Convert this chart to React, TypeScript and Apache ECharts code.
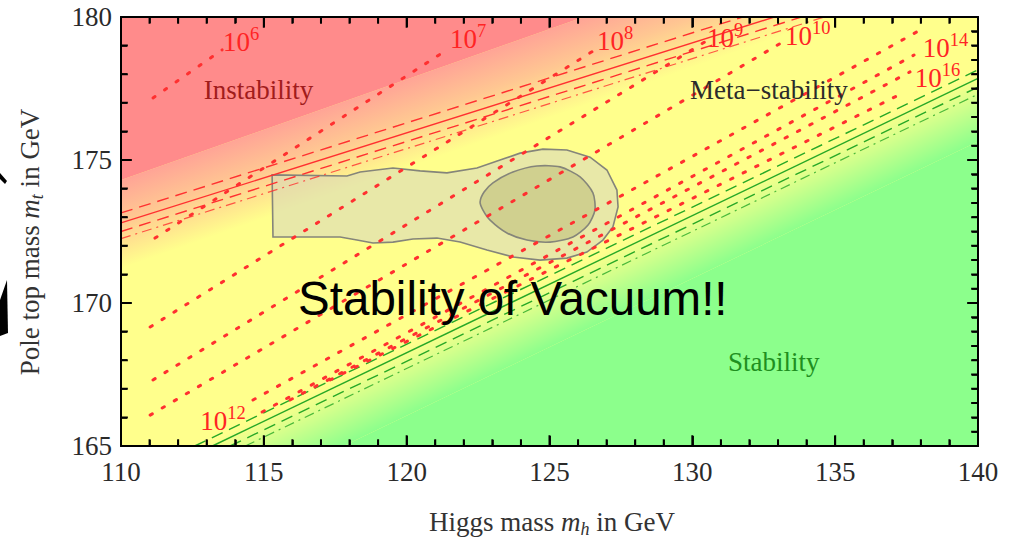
import React, { useEffect, useRef } from "react";
import * as echarts from "echarts";

// ---------- axes ----------
const xMin = 110, xMax = 140, xStep = 5;
const yMin = 165, yMax = 180, yStep = 5;
const xTickValues = [110,111,112,113,114,115,116,117,118,119,120,121,122,123,124,125,126,127,128,129,130,131,132,133,134,135,136,137,138,139,140];
const yTickValues = [165,166,167,168,169,170,171,172,173,174,175,176,177,178,179,180];
const yRightTickValues = [165,165.5,166,166.5,167,167.5,168,168.5,169,169.5,170,170.5,171,171.5,172,172.5,173,173.5,174,174.5,175,175.5,176,176.5,177,177.5,178,178.5,179,179.5,180];
const majorTickLen = 0.38; // GeV (inward frame ticks)
const minorTickLen = 0.24;

// ---------- background zones (GeV) ----------
const redEdge = [[110, 174.3], [126.2, 180]];
const redFadeEnd = [[110, 171.2], [135.3, 180]];
const greenFadeStart = [[112.78, 165], [140, 178.05]];
const greenFull = [[117.79, 165], [140, 175.65]];

// ---------- allowed regions ----------
const outerRegion = [
  [115.29, 174.48], [117.91, 174.44], [118.37, 174.58], [119.52, 174.72], [120.47, 174.62],
  [121.41, 174.55], [122.46, 174.72], [123.27, 175.0], [123.97, 175.24], [124.77, 175.38],
  [125.61, 175.35], [126.42, 175.1], [127.01, 174.65], [127.36, 173.95], [127.4, 173.36],
  [127.22, 172.66], [126.87, 172.2], [126.31, 171.78], [125.61, 171.57], [124.67, 171.5],
  [123.72, 171.61], [122.81, 171.85], [121.87, 172.13], [121.06, 172.27], [120.22, 172.24],
  [119.52, 172.13], [118.82, 172.1], [118.26, 172.2], [117.67, 172.31], [115.32, 172.31],
];
const innerRegion = [
  [122.57, 173.53], [122.71, 173.88], [123.02, 174.2], [123.72, 174.58], [124.56, 174.79],
  [125.37, 174.76], [126.07, 174.41], [126.52, 173.85], [126.59, 173.25], [126.35, 172.73],
  [125.82, 172.31], [125.02, 172.13], [124.21, 172.2], [123.51, 172.45], [122.92, 172.9],
  [122.67, 173.25],
];

// ---------- instability / stability boundaries ----------
const instabSolid = [[110, 172.8], [135, 180.67]];
const instabDashUp = [[110, 173.15], [135, 181.02]];
const instabDashDown = [[110, 172.5], [135, 180.37]];
const instabDashDotDown = [[110, 172.25], [135, 180.12]];
const stabSolid = [[113.2, 165], [140, 177.85]];
const stabDashUp = [[112.58, 165], [140, 178.15]];
const stabDashDown = [[113.82, 165], [140, 177.55]];
const stabDashDotDown = [[114.35, 165], [140, 177.3]];

// ---------- instability-scale contours (GeV) ----------
const contour6 = [[111.12, 177.17], [113.54, 178.85]];
const contour7 = [[111.19, 172.27], [121.41, 178.85]];
const contour8 = [[111.02, 169.16], [126.59, 178.85]];
const contour9 = [[111.12, 167.31], [130.44, 179.13]];
const contour10 = [[111.02, 166.08], [133.17, 179.13]];
const contour12 = [[114.62, 166.61], [137.86, 179.48]];
const contour14 = [[114.94, 166.19], [137.76, 178.67]];
const contour16 = [[115.92, 166.61], [137.62, 178.08]];
const contour18 = [[117.32, 167.31], [137.44, 177.38]];

const contourExps = ["6", "7", "8", "9", "10", "12", "14", "16"];
const contourLabelPos = [
  [113.57, 179.13], [121.52, 179.23], [126.66, 179.16], [130.51, 179.25],
  [133.24, 179.34], [112.77, 165.87], [138.07, 178.92], [137.79, 177.87],
];

const regionNames = ["Instability", "Meta\u2212stability", "Stability"];
const regionPos = [[112.9, 177.45], [129.92, 177.45], [131.25, 167.94]];
const regionColors = ["#a11c1c", "#2b2b2b", "#1f8f1f"];

const bannerText = "Stability of Vacuum!!";
const bannerPos = [116.2, 170.17];

const SERIF = "Liberation Serif";
const SANS = "Liberation Sans";
const YELLOW = "#ffff8c";
const RED = "#ff8b8b";
const GREEN = "#8cff8c";
const RED_LINE = "#ff3030";
const GREEN_LINE = "#27a827";
const LABEL_RED = "#ff2424";
const FRAME = "#000000";

function bandGradient(api: any, edge: number[][], other: number[], stops: any[]) {
  const p1 = api.coord(edge[0]);
  const p2 = api.coord(edge[1]);
  const q = api.coord(other);
  const dx = p2[0] - p1[0], dy = p2[1] - p1[1];
  const len = Math.hypot(dx, dy);
  const nx = -dy / len, ny = dx / len;
  const d = (q[0] - p1[0]) * nx + (q[1] - p1[1]) * ny;
  return new echarts.graphic.LinearGradient(p1[0], p1[1], p1[0] + nx * d, p1[1] + ny * d, stops, true);
}

function lineSeries(data: number[][], color: string, type: any, width: number, opacity = 1, z = 4, clip = true) {
  return {
    type: "line",
    data,
    symbol: "none",
    silent: true,
    z,
    clip,
    lineStyle: { color, width, type, opacity, cap: "butt" },
  };
}

// comb-shaped paths along each frame side: out to the tick tip and back on the frame
const bottomComb: number[][] = [];
const topComb: number[][] = [];
xTickValues.forEach((v) => {
  const L = v % xStep === 0 ? majorTickLen : minorTickLen;
  bottomComb.push([v, yMin], [v, yMin + L], [v, yMin]);
  topComb.push([v, yMax], [v, yMax - L], [v, yMax]);
});
const leftComb: number[][] = [];
yTickValues.forEach((v) => {
  const L = v % yStep === 0 ? majorTickLen : minorTickLen;
  leftComb.push([xMin, v], [xMin + L, v], [xMin, v]);
});
const rightComb: number[][] = [];
yRightTickValues.forEach((v) => {
  const L = v % yStep === 0 ? majorTickLen : minorTickLen;
  rightComb.push([xMax, v], [xMax - L, v], [xMax, v]);
});

const axisCommon = {
  type: "value",
  z: 20,
  splitLine: { show: false },
  axisLine: { show: true, onZero: false, lineStyle: { color: "#111", width: 2 } },
  axisTick: { show: true, inside: true, length: 10, lineStyle: { color: "#111", width: 2 } },
  minorTick: { show: true, splitNumber: 5, length: 6, lineStyle: { color: "#111", width: 1.6 } },
};

const richTitle = {
  r: { fontFamily: SERIF, fontSize: 27, fill: "#333", lineHeight: 32, verticalAlign: "middle" },
  i: { fontFamily: SERIF, fontSize: 27, fontStyle: "italic", fill: "#333", lineHeight: 32, verticalAlign: "middle" },
  s: { fontFamily: SERIF, fontSize: 18, fontStyle: "italic", fill: "#333", lineHeight: 32, verticalAlign: "bottom" },
};

export default function App() {
  const ref = useRef<HTMLDivElement>(null);
  useEffect(() => {
    const chart = echarts.init(ref.current!, undefined, { renderer: "svg" });
    const labelStyle = { fontFamily: SERIF, fontSize: 27, color: "#2a2a2a", margin: 10 };
    const option: any = {
      animation: false,
      grid: { left: 121, right: 37, top: 17, bottom: 93, containLabel: false },
      xAxis: [
        { ...axisCommon, min: xMin, max: xMax, interval: xStep, position: "bottom", axisLabel: { ...labelStyle, margin: 12 } },
        { ...axisCommon, min: xMin, max: xMax, interval: xStep, position: "top", axisLabel: { show: false } },
      ],
      yAxis: [
        { ...axisCommon, min: yMin, max: yMax, interval: yStep, position: "left", axisLabel: { ...labelStyle, margin: 9 } },
        {
          ...axisCommon, min: yMin, max: yMax, interval: yStep, position: "right", axisLabel: { show: false },
          minorTick: { show: true, splitNumber: 10, length: 6, lineStyle: { color: "#111", width: 1.6 } },
        },
      ],
      graphic: [
        {
          type: "text", x: 552, y: 522, z: 30,
          style: { text: "{r|Higgs mass }{i|m}{s|h}{r| in GeV}", align: "center", verticalAlign: "middle", rich: richTitle },
        },
        {
          type: "text", x: 30, y: 242, rotation: Math.PI / 2, z: 30,
          style: { text: "{r|Pole top mass }{i|m}{s|t}{r| in GeV}", align: "center", verticalAlign: "middle", rich: richTitle },
        },
        { type: "polygon", shape: { points: [[0, 173], [7, 181], [5, 184], [0, 179]] }, style: { fill: "#000" } },
        { type: "polygon", shape: { points: [[7, 280], [8, 333], [0, 336], [0, 300]] }, style: { fill: "#000" } },
      ],
      series: [
        {
          type: "custom",
          coordinateSystem: "cartesian2d",
          silent: true,
          clip: false,
          z: 1,
          data: [[xMin, yMin]],
          renderItem: (params: any, api: any) => {
            const c = (p: number[]) => api.coord(p);
            const tl = c([xMin, yMax]);
            const br = c([xMax, yMin]);
            return {
              type: "group",
              children: [
                { type: "rect", shape: { x: tl[0], y: tl[1], width: br[0] - tl[0], height: br[1] - tl[1] }, style: { fill: YELLOW } },
                {
                  type: "polygon",
                  shape: { points: [c(redEdge[0]), c(redFadeEnd[0]), c(redFadeEnd[1]), c(redEdge[1])] },
                  style: {
                    fill: bandGradient(api, redEdge, redFadeEnd[0], [
                      { offset: 0, color: "#ffa496" },
                      { offset: 0.45, color: "#ffc792" },
                      { offset: 1, color: YELLOW },
                    ]),
                  },
                },
                { type: "polygon", shape: { points: [c([xMin, yMax]), c(redEdge[0]), c(redEdge[1])] }, style: { fill: RED } },
                {
                  type: "polygon",
                  shape: { points: [c(greenFadeStart[0]), c(greenFull[0]), c(greenFull[1]), c(greenFadeStart[1])] },
                  style: {
                    fill: bandGradient(api, greenFadeStart, greenFull[0], [
                      { offset: 0, color: YELLOW },
                      { offset: 0.3, color: "#dcff8c" },
                      { offset: 1, color: GREEN },
                    ]),
                  },
                },
                { type: "polygon", shape: { points: [c(greenFull[0]), c([xMax, yMin]), c(greenFull[1])] }, style: { fill: GREEN } },
              ],
            };
          },
        },
        {
          type: "custom",
          coordinateSystem: "cartesian2d",
          silent: true,
          z: 2,
          data: [[0], [1]],
          renderItem: (params: any, api: any) => {
            const outer = params.dataIndex === 0;
            const pts = (outer ? outerRegion : innerRegion).map((p) => api.coord(p));
            return {
              type: "polygon",
              shape: { points: pts, smooth: outer ? 0 : 0.25 },
              style: {
                fill: outer ? "rgba(215,215,188,0.58)" : "rgba(160,160,90,0.32)",
                stroke: "#85857a",
                lineWidth: 1.6,
              },
            };
          },
        },
        lineSeries(instabDashUp, RED_LINE, [12, 7], 1.4),
        lineSeries(instabSolid, RED_LINE, "solid", 1.4),
        lineSeries(instabDashDown, RED_LINE, [12, 7], 1.4),
        lineSeries(instabDashDotDown, RED_LINE, [10, 5, 2, 5], 1.2, 0.8),
        lineSeries(stabDashUp, GREEN_LINE, [12, 7], 1.4),
        lineSeries(stabSolid, GREEN_LINE, "solid", 1.4),
        lineSeries(stabDashDown, GREEN_LINE, [12, 7], 1.4),
        lineSeries(stabDashDotDown, GREEN_LINE, [10, 5, 2, 5], 1.2, 0.8),
        ...[contour6, contour7, contour8, contour9, contour10, contour12, contour14, contour16, contour18].map((d) => ({
          ...lineSeries(d, RED_LINE, [2.5, 11.5], 3),
          lineStyle: { color: RED_LINE, width: 3, type: [2.5, 11.5], cap: "round" },
        })),
        ...[bottomComb, topComb, leftComb, rightComb].map((d) => lineSeries(d, FRAME, "solid", 2, 1, 30, false)),
        {
          type: "custom",
          coordinateSystem: "cartesian2d",
          silent: true,
          clip: false,
          z: 6,
          data: contourLabelPos.map((p, i) => [p[0], p[1], i]),
          renderItem: (params: any, api: any) => {
            const i = params.dataIndex;
            const p = api.coord(contourLabelPos[i]);
            return {
              type: "group",
              children: [
                {
                  type: "text", x: p[0], y: p[1],
                  style: { text: "10", align: "left", verticalAlign: "middle", fontFamily: SERIF, fontSize: 27, lineHeight: 17, fill: LABEL_RED },
                },
                {
                  type: "text", x: p[0] + 27, y: p[1] - 8,
                  style: { text: contourExps[i], align: "left", verticalAlign: "middle", fontFamily: SERIF, fontSize: 18.5, lineHeight: 12, fill: LABEL_RED },
                },
              ],
            };
          },
        },
        {
          type: "custom",
          coordinateSystem: "cartesian2d",
          silent: true,
          clip: false,
          z: 6,
          data: regionPos.map((p, i) => [p[0], p[1], i]),
          renderItem: (params: any, api: any) => {
            const i = params.dataIndex;
            const p = api.coord(regionPos[i]);
            return {
              type: "text",
              x: p[0], y: p[1],
              style: {
                text: regionNames[i], align: "left", verticalAlign: "middle",
                fontFamily: SERIF, fontSize: 27, fill: regionColors[i],
              },
            };
          },
        },
        {
          type: "custom",
          coordinateSystem: "cartesian2d",
          silent: true,
          clip: false,
          z: 7,
          data: [bannerPos],
          renderItem: (params: any, api: any) => {
            const p = api.coord(bannerPos);
            return {
              type: "text",
              x: p[0], y: p[1],
              style: { text: bannerText, align: "left", verticalAlign: "middle", fontFamily: SANS, fontSize: 47.5, fill: "#000" },
            };
          },
        },
      ],
    };
    chart.setOption(option);
    return () => chart.dispose();
  }, []);
  return <div ref={ref} style={{ position: "fixed", left: 0, top: 0, width: 1015, height: 539, background: "#fff" }} />;
}
